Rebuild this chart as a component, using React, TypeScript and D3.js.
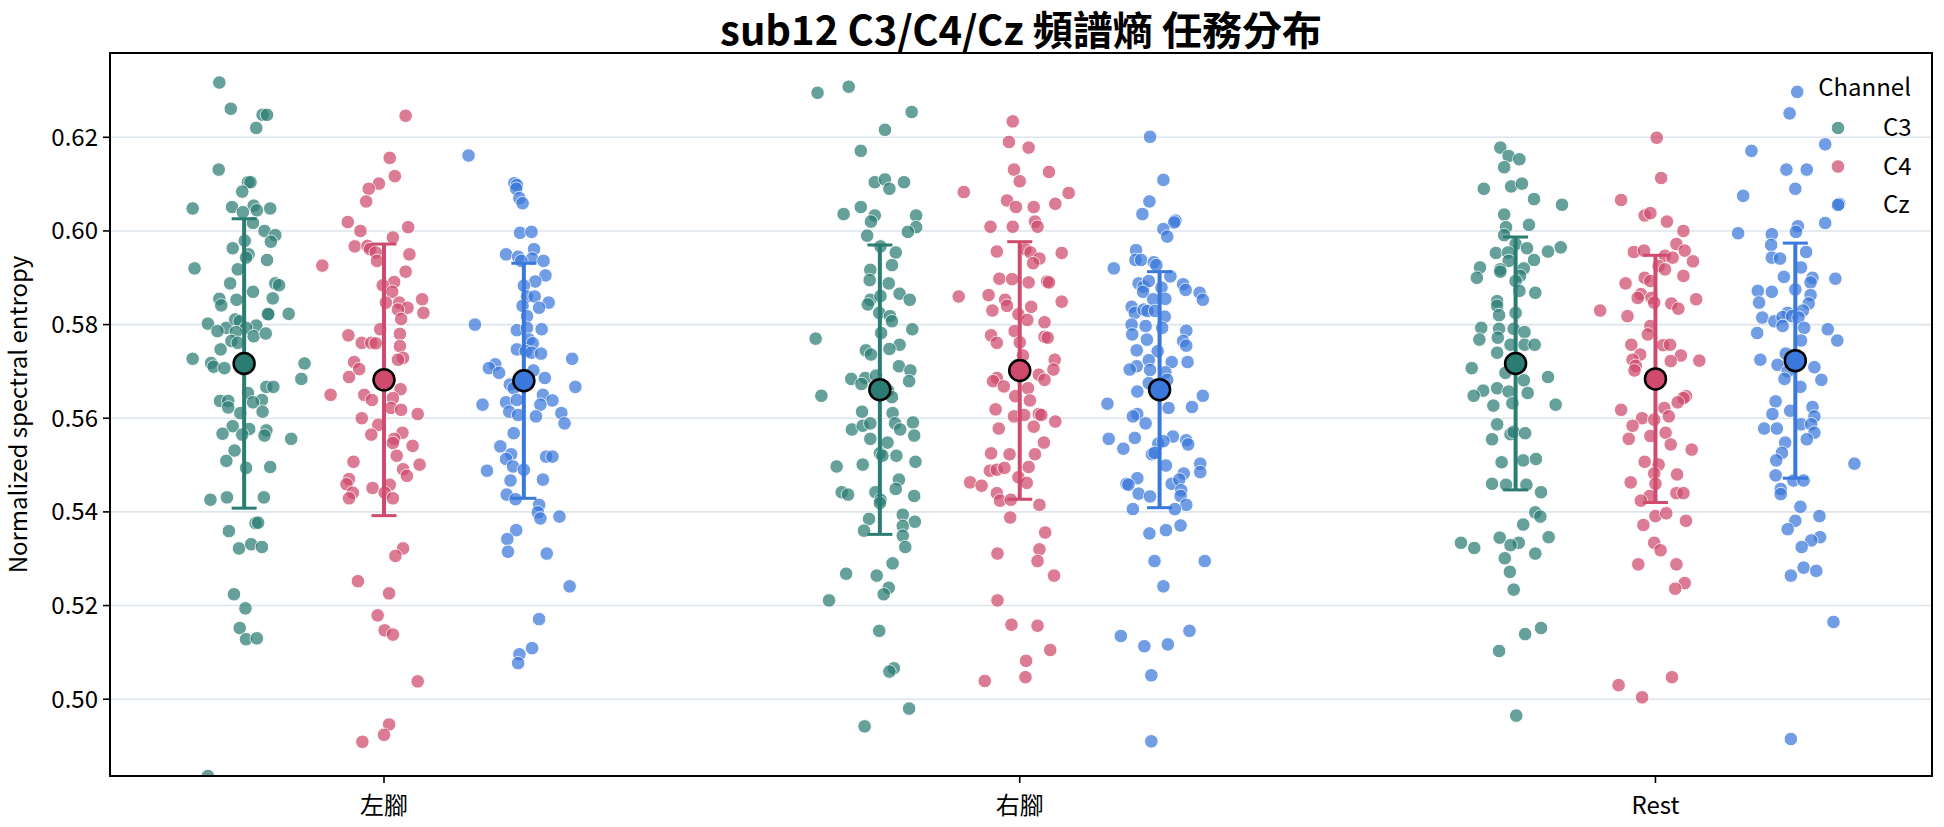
import React from "react";
import * as d3 from "d3";

const tasks = ["左腳", "右腳", "Rest"];
const channels = ["C3", "C4", "Cz"];
const channelColors = ["#2b7d74", "#cf4a6c", "#3a78db"];
const yTicks = [0.5, 0.52, 0.54, 0.56, 0.58, 0.6, 0.62];

// one entry per trial: [jitter offset in category units, spectral entropy]
const leftC3 = [
  [-0.039, 0.6317], [-0.021, 0.6261], [0.029, 0.6248], [0.036, 0.6248], [0.019, 0.622], [-0.04, 0.6131], [0.006, 0.6104], [0.01, 0.6104],
  [-0.003, 0.6084], [-0.081, 0.6048], [-0.019, 0.6051], [0.015, 0.6054], [0.02, 0.6044], [0.041, 0.6048], [-0.002, 0.604], [0.014, 0.6017],
  [0.032, 0.6], [0.049, 0.5991], [0.042, 0.5977], [0.001, 0.5979], [-0.018, 0.5963], [0.007, 0.595], [0.003, 0.5943], [0.036, 0.5938],
  [-0.078, 0.592], [-0.01, 0.5918], [-0.022, 0.5888], [0.049, 0.5888], [0.055, 0.5884], [0.014, 0.587], [-0.039, 0.5855], [-0.036, 0.5841],
  [-0.012, 0.5853], [0.045, 0.5856], [0.037, 0.5823], [0.038, 0.5822], [0.07, 0.5823], [-0.057, 0.5802], [-0.028, 0.5793], [-0.042, 0.5786],
  [-0.014, 0.5811], [-0.007, 0.5807], [0.019, 0.5798], [0.003, 0.5793], [-0.013, 0.5784], [0.015, 0.5775], [0.034, 0.5781], [-0.02, 0.5765],
  [-0.01, 0.5761], [-0.037, 0.5747], [-0.081, 0.5727], [-0.052, 0.5718], [-0.048, 0.571], [-0.031, 0.5707], [0.095, 0.5717], [0.09, 0.5684],
  [0.035, 0.5667], [0.046, 0.5667], [0.006, 0.5654], [-0.038, 0.5637], [-0.025, 0.5637], [-0.025, 0.5623], [0.028, 0.5639], [0.014, 0.5634],
  [0.029, 0.5614], [-0.006, 0.5611], [-0.018, 0.5583], [-0.034, 0.5567], [0.008, 0.5577], [-0.003, 0.5565], [0.035, 0.5574], [0.032, 0.5563],
  [0.074, 0.5556], [-0.015, 0.5531], [-0.028, 0.5509], [0.003, 0.5494], [0.041, 0.5496], [-0.053, 0.5426], [-0.027, 0.5431], [0.031, 0.5431],
  [0.018, 0.5376], [0.022, 0.5377], [-0.024, 0.5359], [-0.008, 0.5322], [0.011, 0.5331], [0.028, 0.5325], [-0.016, 0.5224], [0.002, 0.5194],
  [-0.007, 0.5152], [0.003, 0.5128], [0.02, 0.513], [-0.057, 0.4836],
];
const leftC4 = [
  [0.034, 0.6246], [0.009, 0.6156], [0.017, 0.6117], [-0.008, 0.6101], [-0.024, 0.609], [-0.028, 0.6063], [-0.057, 0.6019], [-0.037, 0.6],
  [0.038, 0.6008], [0.014, 0.5986], [-0.046, 0.5967], [-0.026, 0.5968], [-0.022, 0.5961], [-0.013, 0.5954], [0.04, 0.595], [-0.011, 0.5936],
  [-0.097, 0.5926], [0.034, 0.5913], [0.016, 0.5891], [-0.002, 0.5884], [0.013, 0.587], [0.003, 0.5847], [0.024, 0.5847], [0.037, 0.5836],
  [0.06, 0.5854], [0.062, 0.5825], [0.022, 0.5832], [0.027, 0.5812], [-0.006, 0.579], [-0.056, 0.5777], [-0.035, 0.5761], [-0.02, 0.5761],
  [-0.013, 0.576], [0.025, 0.578], [0.025, 0.5754], [0.03, 0.5729], [0.022, 0.5725], [-0.047, 0.572], [-0.039, 0.5705], [-0.055, 0.5688],
  [0.026, 0.5662], [-0.084, 0.565], [-0.031, 0.565], [-0.019, 0.5639], [0.014, 0.5643], [0.011, 0.5622], [0.027, 0.5618], [0.053, 0.5609],
  [-0.035, 0.56], [-0.009, 0.5586], [-0.02, 0.5565], [0.029, 0.5569], [0.016, 0.5556], [0.014, 0.5547], [0.045, 0.5541], [-0.048, 0.5507],
  [0.02, 0.552], [0.056, 0.5501], [0.03, 0.5491], [0.036, 0.5477], [-0.055, 0.547], [-0.059, 0.5459], [-0.049, 0.5441], [-0.055, 0.5429],
  [-0.018, 0.5451], [0.009, 0.5458], [0.001, 0.5441], [0.014, 0.5429], [0.03, 0.5322], [0.018, 0.5306], [-0.041, 0.5252], [0.008, 0.5226],
  [-0.01, 0.5179], [0.001, 0.5147], [0.014, 0.5138], [0.053, 0.5038], [0.008, 0.4946], [0.0, 0.4924], [-0.034, 0.4909],
];
const leftCz = [
  [-0.087, 0.6161], [-0.015, 0.6102], [-0.011, 0.6098], [-0.012, 0.609], [-0.007, 0.607], [-0.002, 0.6059], [-0.006, 0.5996], [0.012, 0.5998],
  [-0.028, 0.595], [-0.009, 0.5945], [0.016, 0.5961], [0.013, 0.5941], [-0.004, 0.5936], [0.031, 0.5936], [0.034, 0.5905], [0.018, 0.5892],
  [0.0, 0.5883], [0.005, 0.586], [0.017, 0.586], [0.039, 0.5847], [-0.002, 0.584], [0.024, 0.5836], [0.005, 0.5818], [-0.077, 0.58],
  [-0.011, 0.5788], [0.005, 0.5793], [0.028, 0.579], [0.008, 0.5768], [0.014, 0.576], [-0.011, 0.5747], [0.003, 0.5743], [0.012, 0.574],
  [0.027, 0.5738], [0.076, 0.5727], [-0.045, 0.5715], [-0.055, 0.5707], [-0.039, 0.5697], [0.015, 0.5702], [0.033, 0.5686], [-0.022, 0.5672],
  [-0.016, 0.5664], [0.081, 0.5667], [-0.065, 0.5629], [-0.028, 0.5634], [-0.011, 0.5639], [0.03, 0.565], [0.045, 0.5638], [0.026, 0.5629],
  [-0.023, 0.5614], [-0.009, 0.5607], [0.019, 0.5604], [0.059, 0.5611], [0.064, 0.5589], [-0.016, 0.5568], [-0.037, 0.554], [-0.02, 0.5523],
  [-0.028, 0.5513], [0.035, 0.5518], [0.045, 0.5518], [-0.058, 0.5488], [-0.017, 0.5497], [0.0, 0.549], [-0.021, 0.5467], [0.03, 0.5469],
  [-0.027, 0.5437], [-0.013, 0.5427], [0.024, 0.5415], [0.022, 0.5399], [0.026, 0.5386], [0.056, 0.539], [-0.012, 0.5361], [-0.026, 0.5342],
  [-0.025, 0.5315], [0.036, 0.5311], [0.072, 0.5241], [0.024, 0.5171], [0.013, 0.5109], [-0.007, 0.5096], [-0.009, 0.5077],
];
const rightC3 = [
  [-0.098, 0.6295], [-0.049, 0.6308], [0.05, 0.6254], [0.008, 0.6216], [-0.03, 0.6171], [-0.008, 0.6104], [0.008, 0.611], [0.015, 0.609],
  [0.038, 0.6104], [-0.057, 0.6036], [-0.03, 0.6051], [-0.008, 0.6033], [-0.014, 0.602], [0.057, 0.6033], [0.057, 0.6008], [0.044, 0.5998],
  [-0.02, 0.599], [0.001, 0.5967], [0.025, 0.5954], [0.019, 0.5927], [-0.015, 0.5917], [-0.016, 0.5895], [0.014, 0.5888], [0.031, 0.5866],
  [0.047, 0.5853], [-0.015, 0.5853], [-0.019, 0.5843], [0.001, 0.5861], [-0.001, 0.5825], [0.016, 0.5818], [0.019, 0.5807], [0.051, 0.579],
  [-0.101, 0.577], [0.002, 0.5782], [0.031, 0.5757], [0.015, 0.5748], [-0.022, 0.5745], [-0.014, 0.5736], [0.03, 0.5711], [0.048, 0.5702],
  [0.046, 0.5679], [-0.045, 0.5684], [-0.023, 0.5686], [-0.029, 0.5673], [-0.006, 0.5691], [0.013, 0.5659], [0.019, 0.5645], [-0.092, 0.5648],
  [-0.028, 0.5614], [0.02, 0.5611], [-0.044, 0.5576], [-0.027, 0.5584], [-0.015, 0.5589], [0.024, 0.5589], [0.032, 0.5576], [0.052, 0.5591],
  [-0.015, 0.5556], [0.012, 0.5548], [0.054, 0.5563], [0.0, 0.5525], [0.004, 0.552], [0.026, 0.552], [-0.068, 0.5497], [-0.027, 0.5501],
  [0.056, 0.5507], [0.03, 0.5469], [0.025, 0.5449], [-0.06, 0.5442], [-0.05, 0.5437], [-0.007, 0.5442], [0.054, 0.5434], [0.001, 0.5426],
  [0.0, 0.5419], [-0.017, 0.5385], [0.036, 0.5394], [0.055, 0.5379], [-0.025, 0.536], [0.036, 0.537], [0.036, 0.5349], [0.04, 0.5325],
  [0.02, 0.529], [-0.053, 0.5268], [-0.005, 0.5264], [0.014, 0.5238], [0.006, 0.5224], [-0.08, 0.5211], [-0.001, 0.5146], [0.022, 0.5066],
  [0.015, 0.5059], [0.046, 0.498], [-0.024, 0.4942],
];
const rightC4 = [
  [-0.011, 0.6234], [-0.017, 0.619], [0.014, 0.6178], [-0.009, 0.6131], [0.0, 0.6106], [0.046, 0.6126], [-0.088, 0.6083], [0.077, 0.6081],
  [-0.02, 0.6065], [-0.006, 0.6051], [0.022, 0.6051], [0.056, 0.6058], [0.024, 0.602], [0.028, 0.6009], [-0.046, 0.6009], [-0.011, 0.6009],
  [-0.036, 0.5956], [0.009, 0.5961], [0.017, 0.5954], [0.031, 0.5941], [0.021, 0.5931], [0.066, 0.5953], [-0.032, 0.5898], [-0.012, 0.5897],
  [0.014, 0.589], [0.043, 0.5892], [0.046, 0.589], [-0.096, 0.586], [-0.049, 0.5863], [-0.023, 0.5853], [-0.02, 0.584], [0.018, 0.5838],
  [0.066, 0.5849], [-0.043, 0.583], [-0.002, 0.5822], [0.012, 0.581], [0.039, 0.5805], [-0.008, 0.5786], [-0.045, 0.5777], [-0.036, 0.5761],
  [0.039, 0.5774], [0.044, 0.5772], [0.0, 0.5762], [0.005, 0.5734], [0.055, 0.5725], [0.053, 0.5704], [0.03, 0.5693], [0.039, 0.5682],
  [-0.036, 0.5686], [-0.042, 0.5679], [-0.025, 0.5668], [0.013, 0.5664], [-0.007, 0.5647], [0.016, 0.5638], [-0.038, 0.5619], [-0.009, 0.5604],
  [0.007, 0.5607], [0.03, 0.5609], [0.034, 0.5607], [0.056, 0.5593], [-0.033, 0.5578], [0.022, 0.5582], [0.038, 0.5548], [-0.045, 0.5525],
  [-0.016, 0.5523], [0.024, 0.5523], [0.014, 0.5496], [-0.047, 0.5488], [-0.036, 0.549], [-0.024, 0.5494], [-0.002, 0.5474], [0.011, 0.5462],
  [-0.078, 0.5463], [-0.06, 0.5456], [-0.036, 0.544], [-0.031, 0.5424], [-0.014, 0.5426], [0.031, 0.5415], [-0.015, 0.5388], [0.04, 0.5356],
  [0.031, 0.532], [-0.035, 0.5311], [0.028, 0.5295], [0.054, 0.5264], [-0.035, 0.5211], [-0.013, 0.5159], [0.028, 0.5157], [0.048, 0.5105],
  [0.01, 0.5082], [0.009, 0.5047], [-0.055, 0.5039],
];
const rightCz = [
  [-0.015, 0.6201], [0.006, 0.6109], [-0.016, 0.6063], [-0.027, 0.6036], [0.025, 0.6022], [0.023, 0.6018], [0.006, 0.6004], [0.012, 0.5988],
  [-0.037, 0.5959], [-0.038, 0.5938], [-0.029, 0.5938], [-0.009, 0.5933], [-0.005, 0.5927], [-0.072, 0.592], [0.017, 0.5903], [-0.033, 0.5888],
  [-0.025, 0.5881], [-0.017, 0.5893], [0.003, 0.5879], [0.037, 0.5886], [0.041, 0.5874], [0.063, 0.5868], [0.068, 0.5853], [-0.026, 0.587],
  [-0.01, 0.5854], [0.009, 0.5855], [-0.044, 0.5838], [-0.039, 0.5825], [-0.025, 0.5832], [-0.019, 0.5829], [-0.007, 0.5829], [0.008, 0.5817],
  [-0.044, 0.58], [-0.022, 0.5797], [0.004, 0.5793], [-0.043, 0.5779], [-0.02, 0.5768], [0.042, 0.5787], [0.037, 0.5765], [0.042, 0.5755],
  [-0.036, 0.5745], [-0.003, 0.5743], [-0.017, 0.5724], [0.019, 0.572], [0.044, 0.572], [-0.036, 0.5711], [-0.047, 0.5704], [-0.015, 0.5703],
  [0.009, 0.5698], [0.012, 0.5682], [-0.017, 0.5675], [-0.035, 0.5657], [-0.082, 0.5631], [0.014, 0.5622], [0.051, 0.5624], [0.068, 0.5648],
  [-0.035, 0.5609], [-0.042, 0.5604], [-0.022, 0.5589], [-0.08, 0.5556], [-0.039, 0.5558], [-0.057, 0.5535], [0.021, 0.5561], [0.042, 0.5553],
  [0.045, 0.5544], [-0.002, 0.5546], [0.006, 0.5551], [-0.012, 0.5523], [-0.008, 0.5526], [0.01, 0.5499], [0.064, 0.5503], [0.064, 0.5485],
  [0.038, 0.5482], [-0.035, 0.5472], [-0.052, 0.546], [-0.049, 0.5458], [0.019, 0.546], [0.031, 0.5469], [0.034, 0.5446], [-0.033, 0.5439],
  [-0.015, 0.5433], [0.033, 0.5434], [0.042, 0.5415], [-0.042, 0.5406], [0.024, 0.5406], [0.033, 0.5371], [-0.016, 0.5354], [0.01, 0.5361],
  [-0.008, 0.5295], [0.071, 0.5295], [0.006, 0.5241], [-0.061, 0.5135], [-0.024, 0.5113], [0.013, 0.5117], [0.047, 0.5146], [-0.013, 0.5051],
  [-0.013, 0.491],
];
const restC3 = [
  [-0.024, 0.6178], [-0.011, 0.616], [0.006, 0.6153], [-0.018, 0.6136], [-0.05, 0.609], [-0.007, 0.6095], [0.01, 0.6101], [0.029, 0.6068],
  [0.073, 0.6056], [-0.018, 0.6035], [-0.015, 0.6008], [0.021, 0.6013], [-0.018, 0.5991], [0.0, 0.5972], [0.018, 0.5963], [0.051, 0.5956],
  [0.071, 0.5965], [-0.031, 0.5953], [-0.012, 0.5954], [-0.011, 0.5936], [0.029, 0.5938], [-0.056, 0.5922], [-0.024, 0.5918], [0.013, 0.592],
  [-0.061, 0.59], [-0.024, 0.5913], [0.007, 0.5904], [0.0, 0.5893], [0.006, 0.5872], [0.031, 0.5868], [-0.029, 0.585], [-0.029, 0.584],
  [-0.026, 0.582], [0.0, 0.5825], [-0.054, 0.5793], [-0.026, 0.5791], [-0.003, 0.5791], [0.014, 0.5784], [-0.057, 0.5768], [-0.028, 0.5772],
  [-0.008, 0.5757], [0.014, 0.5757], [0.03, 0.5757], [-0.029, 0.574], [-0.069, 0.5707], [-0.016, 0.5697], [0.013, 0.5681], [0.051, 0.5688],
  [-0.051, 0.5659], [-0.066, 0.5648], [-0.029, 0.5664], [-0.011, 0.5657], [0.019, 0.5654], [-0.035, 0.5627], [-0.005, 0.5632], [0.063, 0.5629],
  [-0.029, 0.5587], [-0.037, 0.5555], [-0.008, 0.5566], [-0.003, 0.5571], [0.015, 0.5568], [-0.022, 0.5506], [0.012, 0.551], [0.032, 0.5513],
  [-0.037, 0.546], [-0.015, 0.5458], [0.017, 0.5458], [0.04, 0.5442], [0.031, 0.5399], [0.039, 0.539], [0.012, 0.5373], [-0.086, 0.5334],
  [-0.065, 0.5323], [-0.025, 0.5345], [0.005, 0.5334], [-0.008, 0.5329], [0.052, 0.5346], [0.031, 0.5311], [-0.017, 0.5301], [-0.009, 0.5272],
  [-0.003, 0.5234], [0.04, 0.5152], [0.015, 0.5139], [-0.026, 0.5103], [0.001, 0.4965],
];
const restC4 = [
  [0.002, 0.6199], [0.009, 0.6113], [-0.054, 0.6066], [-0.017, 0.6033], [-0.008, 0.6038], [0.018, 0.602], [0.044, 0.6], [0.033, 0.5972],
  [0.046, 0.5958], [-0.034, 0.5955], [-0.018, 0.5958], [0.015, 0.5947], [0.027, 0.5943], [0.059, 0.5935], [0.005, 0.5925], [0.015, 0.5918],
  [-0.017, 0.59], [0.044, 0.5904], [-0.008, 0.5893], [-0.047, 0.5888], [-0.023, 0.5865], [-0.028, 0.5857], [-0.006, 0.5857], [-0.002, 0.5847],
  [0.025, 0.5845], [0.036, 0.5834], [0.064, 0.5854], [-0.087, 0.583], [-0.044, 0.5818], [-0.008, 0.5797], [-0.012, 0.5779], [-0.038, 0.5757],
  [0.012, 0.5756], [0.023, 0.5757], [-0.024, 0.5736], [0.04, 0.5734], [0.069, 0.5723], [-0.036, 0.5725], [-0.031, 0.5712], [-0.033, 0.5702],
  [0.024, 0.5722], [0.048, 0.5647], [0.044, 0.5643], [0.014, 0.5622], [-0.054, 0.5618], [0.035, 0.5634], [-0.021, 0.56], [0.021, 0.5604],
  [-0.002, 0.5597], [-0.036, 0.5584], [-0.042, 0.5556], [-0.008, 0.5562], [0.016, 0.5569], [0.024, 0.5544], [0.057, 0.5533], [-0.017, 0.5507],
  [0.005, 0.5501], [-0.002, 0.5482], [0.034, 0.548], [-0.039, 0.5463], [0.0, 0.546], [-0.009, 0.5434], [0.033, 0.544], [0.044, 0.544],
  [-0.023, 0.5424], [0.0, 0.5391], [0.017, 0.5397], [0.048, 0.5381], [-0.019, 0.5372], [-0.002, 0.5334], [0.008, 0.5318], [-0.027, 0.5288],
  [0.033, 0.5288], [0.046, 0.5248], [0.031, 0.5236], [0.026, 0.5047], [-0.058, 0.503], [-0.021, 0.5004],
];
const restCz = [
  [0.003, 0.6297], [-0.009, 0.6251], [-0.069, 0.6171], [0.047, 0.6185], [-0.014, 0.6131], [0.018, 0.6131], [0.0, 0.609], [-0.082, 0.6075],
  [0.069, 0.6058], [0.047, 0.6017], [0.004, 0.601], [-0.09, 0.5995], [-0.037, 0.5993], [0.001, 0.5998], [-0.038, 0.597], [-0.037, 0.5943],
  [-0.024, 0.5941], [0.017, 0.5955], [0.009, 0.5922], [-0.018, 0.5902], [0.027, 0.59], [0.063, 0.5898], [0.024, 0.589], [-0.059, 0.5872],
  [-0.037, 0.587], [0.0, 0.5875], [0.024, 0.5863], [-0.057, 0.5847], [0.021, 0.5845], [0.012, 0.583], [-0.012, 0.5825], [-0.052, 0.5815],
  [-0.033, 0.5807], [-0.02, 0.5816], [-0.005, 0.5818], [0.005, 0.5815], [-0.02, 0.5797], [0.014, 0.5793], [-0.06, 0.5782], [0.051, 0.579],
  [0.066, 0.5766], [0.009, 0.5766], [-0.015, 0.5738], [-0.055, 0.5725], [-0.028, 0.5714], [0.03, 0.5709], [-0.012, 0.57], [-0.017, 0.5684],
  [0.041, 0.5682], [0.008, 0.5667], [-0.031, 0.5636], [-0.008, 0.5616], [0.027, 0.5624], [-0.036, 0.5609], [0.03, 0.5604], [-0.049, 0.5578],
  [-0.029, 0.5578], [0.009, 0.5587], [0.025, 0.5587], [0.03, 0.5569], [0.018, 0.5555], [-0.016, 0.5548], [-0.021, 0.5526], [-0.03, 0.551],
  [0.093, 0.5503], [-0.031, 0.5478], [-0.003, 0.5467], [0.013, 0.5467], [-0.023, 0.5449], [-0.023, 0.5438], [0.008, 0.5411], [0.038, 0.5391],
  [0.0, 0.5381], [-0.012, 0.5363], [0.039, 0.5346], [0.025, 0.5339], [0.01, 0.5325], [0.013, 0.5281], [0.033, 0.5274], [-0.007, 0.5264],
  [0.06, 0.5165], [-0.007, 0.4915],
];

const trials = [
  [leftC3, leftC4, leftCz],
  [rightC3, rightC4, rightCz],
  [restC3, restC4, restCz],
];
// mean and standard deviation per task x channel
const means = [
  [0.5717, 0.5682, 0.568],
  [0.5661, 0.5702, 0.5661],
  [0.5717, 0.5684, 0.5723],
];
const sds = [
  [0.0309, 0.029, 0.0251],
  [0.0309, 0.0275, 0.0252],
  [0.027, 0.0264, 0.0251],
];

const W = 1944;
const H = 827;
const margin = { top: 53, right: 12, bottom: 51, left: 110 };
const font = "'Noto Sans CJK TC', 'Noto Sans', sans-serif";
const dodge = [-0.22, 0, 0.22];

export default function App() {
  const x = d3.scaleLinear().domain([-0.431, 2.435]).range([margin.left, W - margin.right]);
  const y = d3.scaleLinear().domain([0.4836, 0.638]).range([H - margin.bottom, margin.top]);
  const [x0, x1] = x.range();
  const [y0, y1] = y.range();
  const capHalf = 12.5;
  const dotR = 6.8;

  return (
    <svg width={W} height={H} style={{ position: "absolute", left: 0, top: 0, background: "#fff" }} fontFamily={font}>
      <text x={(x0 + x1) / 2} y={45} textAnchor="middle" fontSize={40} fontWeight={700}>
        sub12 C3/C4/Cz 頻譜熵 任務分布
      </text>

      {yTicks.map((t) => (
        <line key={"g" + t} x1={x0} x2={x1} y1={y(t)} y2={y(t)} stroke="#dce4ec" strokeWidth={1.6} />
      ))}

      <defs>
        <clipPath id="plot">
          <rect x={x0} y={y1} width={x1 - x0} height={y0 - y1} />
        </clipPath>
      </defs>

      <g clipPath="url(#plot)">
        {trials.map((byChannel, ti) =>
          byChannel.map((pts, ci) =>
            pts.map(([dx, v], k) => (
              <circle
                key={`${ti}-${ci}-${k}`}
                cx={x(ti + dodge[ci] + dx)}
                cy={y(v)}
                r={dotR}
                fill={channelColors[ci]}
                stroke="#fff"
                strokeWidth={1}
                opacity={0.72}
              />
            ))
          )
        )}
      </g>

      {means.map((row, ti) =>
        row.map((m, ci) => {
          const cx = x(ti + dodge[ci]);
          const top = y(m + sds[ti][ci]);
          const bot = y(m - sds[ti][ci]);
          const c = channelColors[ci];
          return (
            <g key={`m${ti}-${ci}`}>
              <line x1={cx} x2={cx} y1={top} y2={bot} stroke={c} strokeWidth={4} />
              <line x1={cx - capHalf} x2={cx + capHalf} y1={top} y2={top} stroke={c} strokeWidth={3} />
              <line x1={cx - capHalf} x2={cx + capHalf} y1={bot} y2={bot} stroke={c} strokeWidth={3} />
              <circle cx={cx} cy={y(m)} r={10.5} fill={c} stroke="#000" strokeWidth={2.5} />
            </g>
          );
        })
      )}

      <rect x={x0} y={y1} width={x1 - x0} height={y0 - y1} fill="none" stroke="#000" strokeWidth={2} />

      {yTicks.map((t) => (
        <g key={"y" + t} transform={`translate(${x0},${y(t)})`}>
          <line x1={-7} x2={0} stroke="#000" strokeWidth={1.6} />
          <text x={-12} dy="0.35em" textAnchor="end" fontSize={24}>
            {d3.format(".2f")(t)}
          </text>
        </g>
      ))}

      {tasks.map((t, i) => (
        <g key={"x" + t} transform={`translate(${x(i)},${y0})`}>
          <line y1={0} y2={7} stroke="#000" strokeWidth={1.6} />
          <text y={38} textAnchor="middle" fontSize={24}>
            {t}
          </text>
        </g>
      ))}

      <text transform={`translate(27,${(y0 + y1) / 2}) rotate(-90)`} textAnchor="middle" fontSize={24}>
        Normalized spectral entropy
      </text>

      <g>
        <text x={1911} y={96} textAnchor="end" fontSize={24}>
          Channel
        </text>
        {channels.map((c, i) => (
          <g key={"l" + c} transform={`translate(0,${128 + i * 38.5})`}>
            <circle cx={1838} cy={0} r={dotR} fill={channelColors[i]} stroke="#fff" strokeWidth={1} opacity={0.72} />
            <text x={1883} dy="0.35em" fontSize={24}>
              {c}
            </text>
          </g>
        ))}
      </g>
    </svg>
  );
}
